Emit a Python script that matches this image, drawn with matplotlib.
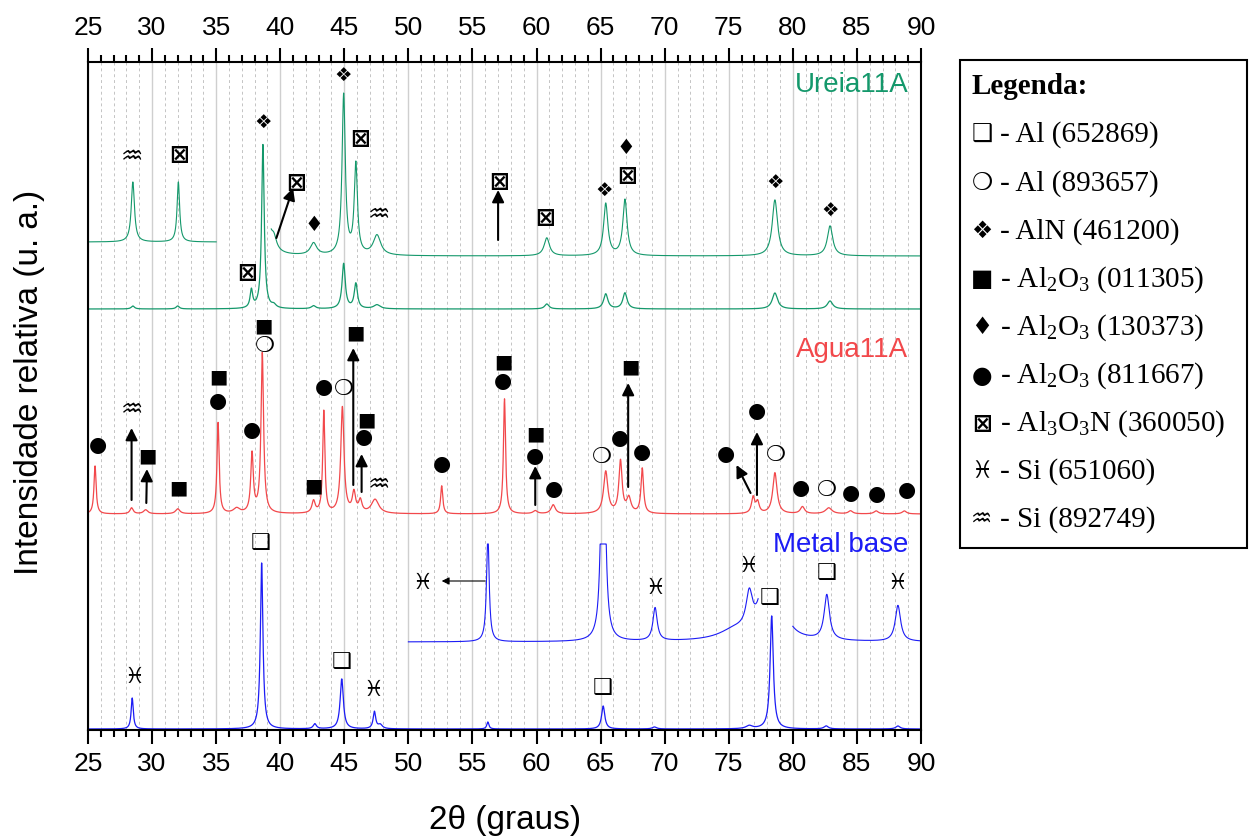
""" XRD patterns: metal base, Agua11A and Ureia11A with phase markers. """

import numpy as np
import matplotlib
matplotlib.use('Agg')
import matplotlib.pyplot as plt
from matplotlib.patches import Rectangle

plt.rcParams['font.family'] = ['Liberation Sans', 'DejaVu Sans']
plt.rcParams['mathtext.fontset'] = 'custom'
plt.rcParams['mathtext.rm'] = 'Liberation Serif'
plt.rcParams['mathtext.default'] = 'rm'

FNAME = 'out.png'
DPI = 100

GREEN, RED, BLUE = '#14986b', '#f2484b', '#1c1cf5'
SYM_FONT = ['DejaVu Sans']

# Phase symbols.
AL_A, AL_B, ALN = '\u2751', '\u274d', '\u2756'
OX_A, OX_B, OX_C = '\u25a0', '\u2666', '\u25cf'
ALON, SI_A, SI_B = '\u22a0', '\u2653', '\u2652'

# Peaks: (2theta, height above base, half width).
METAL_BASE = 1
METAL_PEAKS = [(28.45, 31, 0.1), (38.55, 166, 0.12), (42.7, 5, 0.15),
               (44.8, 50, 0.15), (47.35, 17, 0.12), (47.8, 4, 0.2),
               (56.2, 7, 0.1), (65.2, 23, 0.15), (69.2, 2, 0.2),
               (76.6, 3, 0.3), (78.35, 113, 0.15), (82.6, 3, 0.2),
               (88.2, 3, 0.2)]
METAL_ZOOM_BASE = 88
METAL_ZOOM_TOP = 186
METAL_ZOOM_RANGES = [(50.0, 77.3), (80.0, 90.0)]
METAL_ZOOM_PEAKS = [(56.2, 110, 0.12), (65.2, 345, 0.15), (69.25, 33, 0.2),
                    (75.5, 10, 1.5), (76.6, 35, 0.3), (78.35, 1700, 0.15),
                    (82.65, 45, 0.25), (88.2, 36, 0.25)]

AGUA_BASE = 216
AGUA_PEAKS = [(25.55, 48, 0.1), (28.4, 6, 0.15), (29.5, 4, 0.2),
              (32.0, 5, 0.2), (35.15, 91, 0.1), (36.6, 5, 0.3),
              (37.8, 59, 0.12), (38.6, 160, 0.12), (42.6, 12, 0.15),
              (43.4, 102, 0.1), (44.85, 106, 0.15), (45.75, 20, 0.15),
              (46.25, 12, 0.15), (47.4, 14, 0.35), (52.6, 28, 0.1),
              (57.5, 115, 0.1), (59.9, 3, 0.2), (61.3, 9, 0.2),
              (65.4, 42, 0.2), (66.55, 52, 0.15), (67.2, 15, 0.2),
              (68.25, 45, 0.12), (76.9, 16, 0.15), (77.25, 11, 0.15),
              (78.6, 41, 0.2), (80.75, 7, 0.2), (82.8, 6, 0.3),
              (84.5, 3, 0.2), (86.5, 3, 0.2), (88.7, 3, 0.2)]

UREIA_BASE = 421
UREIA_PEAKS = [(28.5, 3, 0.15), (32.0, 3, 0.15), (37.75, 18, 0.12),
               (38.65, 164, 0.12), (39.5, 3, 0.2), (42.6, 3, 0.2),
               (44.95, 45, 0.15), (45.9, 25, 0.15), (47.55, 4, 0.3),
               (60.8, 5, 0.2), (65.4, 15, 0.2), (66.9, 16, 0.2),
               (78.6, 16, 0.25), (82.9, 8, 0.25)]
UREIA_ZOOM1_BASE = 488
UREIA_ZOOM1_RANGE = (25.0, 35.0)
UREIA_ZOOM1_PEAKS = [(28.5, 60, 0.15), (32.05, 60, 0.12)]
UREIA_ZOOM2_BASE = 474
UREIA_ZOOM2_RANGE = (39.3, 90.0)
UREIA_ZOOM2_PEAKS = [(38.65, 590, 0.12), (39.5, 12, 0.25), (42.6, 12, 0.3),
                     (44.95, 160, 0.15), (45.9, 90, 0.15), (47.55, 20, 0.35),
                     (60.8, 18, 0.25), (65.4, 52, 0.2), (66.9, 56, 0.2),
                     (78.6, 56, 0.25), (82.9, 30, 0.25)]

# Phase markers: (symbol, 2theta, height).
UREIA_MARKS = [(SI_B, 28.4, 573), (ALON, 32.1, 575), (ALN, 38.7, 608),
               (ALON, 41.25, 547), (OX_B, 42.6, 505), (ALN, 44.9, 655),
               (ALON, 46.25, 591), (SI_B, 47.7, 515), (ALON, 37.4, 457),
               (ALON, 57.1, 548), (ALON, 60.65, 512), (ALN, 65.3, 540),
               (ALON, 67.1, 554), (OX_B, 66.95, 582), (ALN, 78.6, 548),
               (ALN, 82.9, 520)]
AGUA_MARKS = [(OX_C, 25.8, 285), (SI_B, 28.4, 320), (OX_A, 29.6, 274),
              (OX_A, 32.05, 242), (OX_A, 35.15, 353), (OX_C, 35.15, 329),
              (OX_C, 37.8, 300), (OX_A, 38.7, 404), (AL_B, 38.8, 384),
              (OX_A, 42.6, 244), (OX_C, 43.45, 343), (AL_B, 45.0, 341),
              (OX_A, 45.85, 397), (OX_A, 46.7, 310), (OX_C, 46.5, 293),
              (SI_B, 47.7, 245), (OX_C, 52.6, 266), (OX_A, 57.4, 368),
              (OX_C, 57.4, 349), (OX_A, 59.9, 296), (OX_C, 59.9, 274),
              (OX_C, 61.4, 241), (AL_B, 65.1, 273), (OX_C, 66.55, 292),
              (OX_A, 67.35, 363), (OX_C, 68.25, 278), (OX_C, 74.8, 276),
              (OX_C, 77.2, 319), (AL_B, 78.65, 275), (OX_C, 80.6, 242),
              (AL_B, 82.65, 240), (OX_C, 84.5, 237), (OX_C, 86.55, 236),
              (OX_C, 88.9, 240)]
METAL_MARKS = [(SI_A, 28.6, 53), (AL_A, 38.45, 187), (AL_A, 44.8, 68),
               (SI_A, 47.3, 40), (SI_A, 51.1, 147), (AL_A, 65.15, 42),
               (SI_A, 69.3, 142), (SI_A, 76.55, 164), (AL_A, 78.2, 132),
               (AL_A, 82.6, 157), (SI_A, 88.2, 147)]

# Arrows: (tail 2theta, tail height, head 2theta, head height).
ARROWS = [(39.7, 492, 41.0, 542), (57.0, 490, 57.0, 540),
          (28.4, 230, 28.4, 302), (29.55, 227, 29.6, 261),
          (45.7, 245, 45.7, 382), (46.35, 238, 46.35, 276),
          (59.9, 225, 59.9, 264), (67.15, 243, 67.15, 347),
          (76.7, 237, 75.6, 265), (77.2, 235, 77.2, 298)]
THIN_ARROWS = [(56.0, 149, 52.6, 149)]

LEGEND_SYMBOLS = [AL_A, AL_B, ALN, OX_A, OX_B, OX_C, ALON, SI_A, SI_B]
LEGEND_LABELS = ['- Al (652869)', '- Al (893657)', '- AlN (461200)',
                 '- Al$_2$O$_3$ (011305)', '- Al$_2$O$_3$ (130373)',
                 '- Al$_2$O$_3$ (811667)', '- Al$_3$O$_3$N (360050)',
                 '- Si (651060)', '- Si (892749)']

SERIES_LABELS = [('Ureia11A', 645, GREEN), ('Agua11A', 380, RED),
                 ('Metal base', 185, BLUE)]

# Glyph size and weight for each symbol.
SYM_SIZE = {AL_A: 16, AL_B: 16, ALN: 14, OX_A: 14, OX_B: 15, OX_C: 15,
            ALON: 17, SI_A: 16, SI_B: 18}
SYM_BOLD = {AL_A, AL_B, ALON, SI_A, SI_B}


def _profile(x, base, peaks, span=None):
    """ Builds a pattern from a base level and a list of peaks. """
    y = np.full_like(x, float(base))
    for c, h, w in peaks:
        y += h / (1 + ((x - c) / w) ** 2)
    if span is not None:
        y[(x < span[0]) | (x > span[1])] = np.nan
    return y


def _weight(sym):
    return 'bold' if sym in SYM_BOLD else 'normal'


def _marks(ax, marks):
    """ Writes the phase symbols. """
    for sym, xx, yy in marks:
        ax.text(xx, yy, sym, family=SYM_FONT, fontsize=SYM_SIZE[sym],
                fontweight=_weight(sym), ha='center', va='center', zorder=5)


fig = plt.figure(figsize=(12.5, 8.4), dpi=DPI)
ax = fig.add_axes([88 / 1250, 110 / 840, 833 / 1250, 668 / 840])

x = np.linspace(25, 90, 6501)

# Metal base.
ax.plot(x, _profile(x, METAL_BASE, METAL_PEAKS), color=BLUE, lw=0.9)
for span in METAL_ZOOM_RANGES:
    y = np.minimum(_profile(x, METAL_ZOOM_BASE, METAL_ZOOM_PEAKS, span),
                   METAL_ZOOM_TOP)
    ax.plot(x, y, color=BLUE, lw=0.8)

# Agua11A.
ax.plot(x, _profile(x, AGUA_BASE, AGUA_PEAKS), color=RED, lw=0.9)

# Ureia11A.
ax.plot(x, _profile(x, UREIA_BASE, UREIA_PEAKS), color=GREEN, lw=0.9)
ax.plot(x, _profile(x, UREIA_ZOOM1_BASE, UREIA_ZOOM1_PEAKS, UREIA_ZOOM1_RANGE),
        color=GREEN, lw=0.8)
ax.plot(x, _profile(x, UREIA_ZOOM2_BASE, UREIA_ZOOM2_PEAKS, UREIA_ZOOM2_RANGE),
        color=GREEN, lw=0.8)

_marks(ax, UREIA_MARKS)
_marks(ax, AGUA_MARKS)
_marks(ax, METAL_MARKS)

for x0, y0, x1, y1 in ARROWS:
    ax.annotate('', xy=(x1, y1), xytext=(x0, y0),
                arrowprops=dict(arrowstyle='-|>', color='black', lw=1.5,
                                mutation_scale=18, shrinkA=0, shrinkB=0))
for x0, y0, x1, y1 in THIN_ARROWS:
    ax.annotate('', xy=(x1, y1), xytext=(x0, y0),
                arrowprops=dict(arrowstyle='-|>', color='black', lw=0.8,
                                mutation_scale=11, shrinkA=0, shrinkB=0))

for label, yy, color in SERIES_LABELS:
    ax.text(89.0, yy, label, color=color, fontsize=20, ha='right', va='center')

# Axes styling.
ax.set_xlim(25, 90)
ax.set_ylim(0, 668)
ax.set_xticks(np.arange(25, 91, 5))
ax.set_xticks(np.arange(25, 91, 1), minor=True)
ax.set_yticks([])
ax.grid(True, which='major', axis='x', color='#cfcfcf', lw=1.0)
ax.grid(True, which='minor', axis='x', color='#c4c4c4', lw=0.7,
        linestyle=(0, (3, 3)))
ax.set_axisbelow(True)
ax.tick_params(which='both', top=True, labeltop=True, direction='out',
               width=1.5, labelsize=19, pad=6)
ax.tick_params(which='major', length=10)
ax.tick_params(which='minor', length=5)
for spine in ax.spines.values():
    spine.set_linewidth(1.5)

fig.text(505 / 1250, 1 - 820 / 840, '2\u03b8 (graus)', fontsize=24,
         ha='center', va='center')
fig.text(30 / 1250, 1 - 382 / 840, 'Intensidade relativa (u. a.)',
         fontsize=24, rotation=90, ha='center', va='center')

# Legend box.
fig.add_artist(Rectangle((960 / 1250, 1 - 548 / 840), 287 / 1250, 488 / 840,
                         fill=False, lw=1.5, ec='black',
                         transform=fig.transFigure))
fig.text(972 / 1250, 1 - 87 / 840, 'Legenda:', family='Liberation Serif',
         fontsize=21, fontweight='bold', va='center')
for i, (sym, label) in enumerate(zip(LEGEND_SYMBOLS, LEGEND_LABELS)):
    yy = 1 - (135 + i * 48.1) / 840
    fig.text(982 / 1250, yy, sym, family=SYM_FONT, fontsize=17,
             fontweight=_weight(sym), ha='center', va='center')
    fig.text(1000 / 1250, yy, label, family='Liberation Serif',
             fontsize=21, va='center')

fig.savefig(FNAME, dpi=DPI)
plt.close(fig)
